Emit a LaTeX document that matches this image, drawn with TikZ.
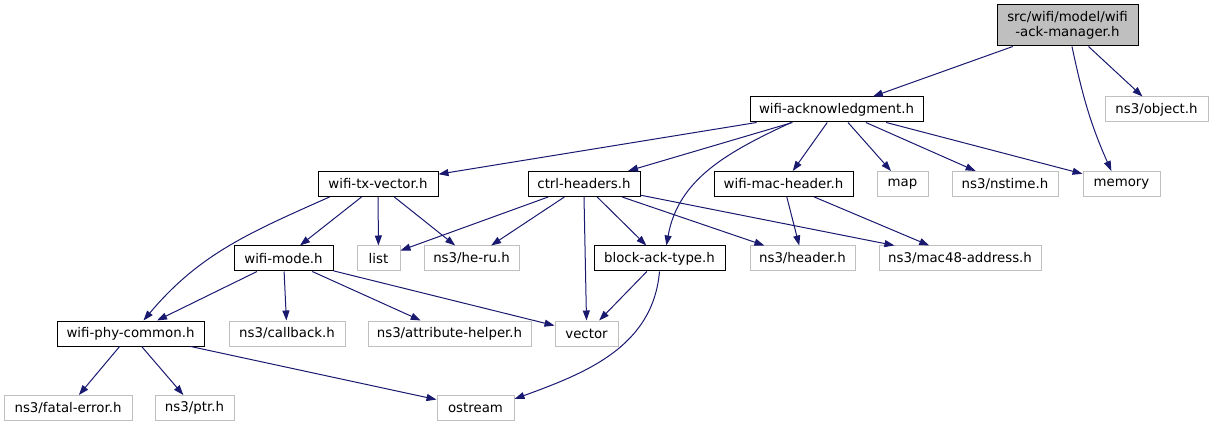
\documentclass[tikz,border=0pt]{standalone}
\usepackage{fontspec}
\setmainfont{DejaVu Sans}
\usetikzlibrary{arrows.meta}
\definecolor{edgeblue}{HTML}{191970}
\definecolor{boxgray}{HTML}{BFBFBF}
\tikzset{every picture/.style={line width=0.75pt}}
\tikzset{
  filebox/.style={draw=black, minimum height=18.75pt, inner sep=0pt, font=\fontsize{10}{11.5}\selectfont, text=black},
  sysbox/.style={filebox, draw=boxgray},
  rootbox/.style={filebox, fill=boxgray, minimum height=30.75pt, align=center},
  incl/.style={draw=edgeblue, -{Triangle[length=7.5pt,width=5.25pt]}}
}

\begin{document}
\begin{tikzpicture}[x=0.75pt,y=0.75pt,yscale=-1,xscale=1]
\useasboundingbox (0,0) rectangle (1212,427);

% Text Node
\draw (1067.5,25.5) node [rootbox, minimum width=105.75pt] (root) {src/wifi/model/wifi\\-ack-manager.h};
% Text Node
\draw (836.5,109.5) node [filebox, minimum width=129.75pt] (wack) {wifi-acknowledgment.h};
% Text Node
\draw (1156.5,109.5) node [sysbox, minimum width=77.25pt] (object) {ns3/object.h};
% Text Node
\draw (378,184) node [filebox, minimum width=90pt] (txvec) {wifi-tx-vector.h};
% Text Node
\draw (584,184) node [filebox, minimum width=84pt] (ctrl) {ctrl-headers.h};
% Text Node
\draw (783.5,184) node [filebox, minimum width=104.25pt] (machdr) {wifi-mac-header.h};
% Text Node
\draw (902.5,184) node [sysbox, minimum width=38.25pt] (map) {map};
% Text Node
\draw (1005,184) node [sysbox, minimum width=79.5pt] (nstime) {ns3/nstime.h};
% Text Node
\draw (1121.5,184) node [sysbox, minimum width=57.75pt] (memory) {memory};
% Text Node
\draw (283.5,258.5) node [filebox, minimum width=74.25pt] (wmode) {wifi-mode.h};
% Text Node
\draw (378.5,258.5) node [sysbox, minimum width=32.25pt] (list) {list};
% Text Node
\draw (471.5,258.5) node [sysbox, minimum width=71.25pt] (heru) {ns3/he-ru.h};
% Text Node
\draw (659.5,258.5) node [filebox, minimum width=98.25pt] (block) {block-ack-type.h};
% Text Node
\draw (802.5,258.5) node [sysbox, minimum width=78.75pt] (header) {ns3/header.h};
% Text Node
\draw (960,258.5) node [sysbox, minimum width=121.5pt] (mac48) {ns3/mac48-address.h};
% Text Node
\draw (130.5,333.5) node [filebox, minimum width=110.25pt] (phy) {wifi-phy-common.h};
% Text Node
\draw (287,333.5) node [sysbox, minimum width=87pt] (callback) {ns3/callback.h};
% Text Node
\draw (449.5,333.5) node [sysbox, minimum width=122.25pt] (attr) {ns3/attribute-helper.h};
% Text Node
\draw (586.5,333.5) node [sysbox, minimum width=47.25pt] (vector) {vector};
% Text Node
\draw (68,408) node [sysbox, minimum width=96pt] (fatal) {ns3/fatal-error.h};
% Text Node
\draw (194.5,408) node [sysbox, minimum width=59.25pt] (ptr) {ns3/ptr.h};
% Text Node
\draw (475.5,408) node [sysbox, minimum width=57.75pt] (ostream) {ostream};

%Straight Lines
\draw [incl] (root.-159) -- (wack);
\draw [incl] (root.-45) -- (object);
%Curve Lines
\draw [incl] (root.-78) to[out=78,in=-114] (memory.128);

%Straight Lines
\draw [incl] (wack) -- (txvec);
\draw [incl] (wack) -- (ctrl);
\draw [incl] (wack) -- (machdr);
\draw [incl] (wack) -- (map);
\draw [incl] (wack) -- (nstime);
\draw [incl] (wack) -- (memory);
%Curve Lines
\draw [incl] (wack.-164) to[out=155,in=-80] (block.62);

%Straight Lines
\draw [incl] (txvec) -- (wmode);
\draw [incl] (txvec) -- (list);
\draw [incl] (txvec) -- (heru);
%Curve Lines
\draw [incl] (txvec.-165) to[out=156,in=-50] (phy.45);

%Straight Lines
\draw [incl] (ctrl) -- (list);
\draw [incl] (ctrl) -- (heru);
\draw [incl] (ctrl.south) -- (vector.north);
\draw [incl] (ctrl) -- (block);
\draw [incl] (ctrl) -- (header);
\draw [incl] (ctrl) -- (mac48);

\draw [incl] (machdr) -- (header);
\draw [incl] (machdr) -- (mac48);

\draw [incl] (block) -- (vector);
%Curve Lines
\draw [incl] (block.south) to[out=95,in=-20] (ostream.13);

%Straight Lines
\draw [incl] (wmode) -- (phy);
\draw [incl] (wmode) -- (callback);
\draw [incl] (wmode) -- (attr);
\draw [incl] (wmode) -- (vector);

\draw [incl] (phy) -- (fatal);
\draw [incl] (phy) -- (ptr);
\draw [incl] (phy) -- (ostream);

\end{tikzpicture}
\end{document}
